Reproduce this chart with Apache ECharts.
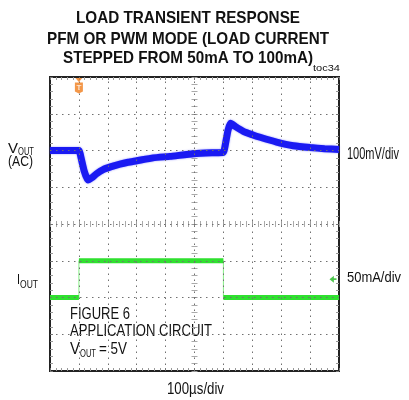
<!DOCTYPE html>
<html>
<head>
<meta charset="utf-8">
<script src="https://cdn.jsdelivr.net/npm/echarts@6/dist/echarts.min.js"></script>
<style>
  html, body { margin: 0; padding: 0; background: #ffffff; }
  #chart { width: 409px; height: 400px; }
</style>
</head>
<body>
<div id="chart"></div>
<script>
// scope capture, 100us/div horizontally
var timeUs = [0, 100, 104, 118, 131, 145, 160, 184, 212, 242, 270, 300, 357, 415, 496, 560, 600, 604, 616, 625, 640, 669, 700, 727, 784, 842, 900, 950, 1000]
// VOUT (AC coupled), mV, 100mV/div
var voutMv = [0, 0, -8, -55, -80, -74, -64, -52, -44, -37, -32, -28, -20, -16, -9, -6, -5, 5, 55, 74, 66, 52, 43, 36, 23, 13, 8, 5, 3]
// IOUT, mA, 50mA/div
var ioutTimeUs = [0, 100, 100, 600, 600, 1000]
var ioutMa = [50, 50, 100, 100, 50, 50]
var triggerUs = 100
var ioutRefMa = 75
// graticule divisions (time in us, current axis in mA)
var divTimeUs = [100, 200, 300, 400, 500, 600, 700, 800, 900]
var divCurrentMa = [0, 50, 100, 150, 200, 250, 300]

var chart = echarts.init(document.getElementById('chart'))

var sans = "'Liberation Sans', Arial, sans-serif"

var voutData = timeUs.map(function (t, i) { return [t, voutMv[i]] })
var ioutEdge = ioutTimeUs.map(function (t, i) { return [t, ioutMa[i]] })
// thick flat levels, vertical edges left thin
var ioutLevels = []
for (var i = 0; i < ioutTimeUs.length; i++) {
  if (i > 0 && ioutTimeUs[i] === ioutTimeUs[i - 1]) ioutLevels.push([ioutTimeUs[i], '-'])
  ioutLevels.push([ioutTimeUs[i], ioutMa[i]])
}
var graticule = divTimeUs.map(function (t) { return { xAxis: t } })
  .concat(divCurrentMa.map(function (v) { return { yAxis: v } }))

function frameAxis (extra) {
  var a = {
    type: 'value',
    axisLine: { show: false, onZero: false },
    axisLabel: { show: false },
    axisTick: { show: true, inside: true, length: 3, lineStyle: { color: '#777' } },
    minorTick: { show: true, splitNumber: 5, length: 3, lineStyle: { color: '#999' } },
    splitLine: { show: false }
  }
  for (var k in extra) a[k] = extra[k]
  return a
}

// the scope font is a condensed sans, so squeeze Liberation Sans to the width seen
var measureCtx = document.createElement('canvas').getContext('2d')
function txt (x, y, text, size, width, opts) {
  opts = opts || {}
  var font = (opts.bold ? 'bold ' : '') + size + 'px ' + sans
  measureCtx.font = font
  var w = measureCtx.measureText(text).width
  return {
    type: 'text',
    x: x,
    y: y,
    scaleX: width / w,
    style: {
      text: text,
      font: font,
      fill: '#111',
      textAlign: opts.align || 'left',
      textVerticalAlign: 'middle'
    }
  }
}

var centreTick = { show: true, inside: false, length: 6, lineStyle: { color: '#999' } }
var centreMinor = { show: true, splitNumber: 5, length: 6, lineStyle: { color: '#aaa' } }

var option = {
  backgroundColor: '#ffffff',
  animation: false,
  grid: {
    left: 50,
    right: 70,
    top: 77,
    bottom: 29,
    show: true,
    borderColor: '#222',
    borderWidth: 2,
    containLabel: false
  },
  xAxis: [
    frameAxis({ min: 0, max: 1000, interval: 100, position: 'bottom' }),
    frameAxis({ min: 0, max: 1000, interval: 100, position: 'top' }),
    // centre graticule line
    frameAxis({ min: 0, max: 1000, interval: 100, position: 'top', offset: -150,
      axisTick: centreTick, minorTick: centreMinor })
  ],
  yAxis: [
    frameAxis({ min: -600, max: 200, interval: 100, position: 'left' }),
    frameAxis({ min: -50, max: 350, interval: 50, position: 'right' }),
    frameAxis({ min: -600, max: 200, interval: 100, position: 'left', offset: -147.5,
      axisTick: centreTick, minorTick: centreMinor })
  ],
  series: [
    {
      name: 'IOUT edges',
      type: 'line',
      xAxisIndex: 0,
      yAxisIndex: 1,
      data: ioutEdge,
      showSymbol: false,
      lineStyle: { width: 1, color: '#86ee86' },
      markLine: {
        silent: true,
        symbol: ['none', 'none'],
        label: { show: false },
        lineStyle: { type: [1.5, 4.5], color: '#707070', width: 1 },
        emphasis: { disabled: true },
        data: graticule
      },
      z: 2
    },
    {
      name: 'IOUT',
      type: 'line',
      xAxisIndex: 0,
      yAxisIndex: 1,
      data: ioutLevels,
      connectNulls: false,
      showSymbol: false,
      lineStyle: { width: 5, color: '#2fe02f' },
      z: 3
    },
    {
      name: 'VOUT',
      type: 'line',
      xAxisIndex: 0,
      yAxisIndex: 0,
      data: voutData,
      showSymbol: false,
      smooth: 0.15,
      lineStyle: { width: 7, color: '#1a1af2', shadowColor: 'rgba(70,70,255,0.6)', shadowBlur: 2 },
      z: 4
    },
    {
      name: 'trigger arrow',
      type: 'scatter',
      xAxisIndex: 0,
      yAxisIndex: 0,
      data: [[triggerUs, 200]],
      symbol: 'path://M0,0 L10,0 L5,6 Z',
      symbolSize: [7, 4],
      symbolOffset: [0, 3],
      itemStyle: { color: '#f07d1c' },
      silent: true,
      z: 6
    },
    {
      name: 'trigger',
      type: 'scatter',
      xAxisIndex: 0,
      yAxisIndex: 0,
      data: [[triggerUs, 200]],
      symbol: 'path://M0,0 L8,0 L8,9 L4,11 L0,9 Z',
      symbolSize: [8, 11],
      symbolOffset: [0, 11],
      itemStyle: { color: '#f07d1c' },
      label: { show: true, position: 'inside', formatter: 'T', color: '#fff', fontSize: 8, fontWeight: 'bold', fontFamily: 'Liberation Sans' },
      silent: true,
      z: 6
    },
    {
      name: 'IOUT ref',
      type: 'scatter',
      xAxisIndex: 0,
      yAxisIndex: 1,
      data: [[1000, ioutRefMa]],
      symbol: 'path://M0,4 L5,0 L5,3 L8,3 L8,5 L5,5 L5,8 Z',
      symbolSize: [7, 7],
      symbolOffset: [-6, 0],
      itemStyle: { color: '#22b822' },
      silent: true,
      z: 6
    }
  ],
  graphic: [
    txt(188, 18, 'LOAD TRANSIENT RESPONSE', 16.5, 224, { bold: true, align: 'center' }),
    txt(188, 39.5, 'PFM OR PWM MODE (LOAD CURRENT', 16.5, 282, { bold: true, align: 'center' }),
    txt(188, 58, 'STEPPED FROM 50mA TO 100mA)', 16.5, 250, { bold: true, align: 'center' }),
    txt(313, 68.5, 'toc34', 9.5, 27),
    txt(8, 149.5, 'V', 14, 10),
    txt(18, 152.5, 'OUT', 10, 16),
    txt(8, 162, '(AC)', 15, 25),
    txt(17, 279.5, 'I', 15, 3),
    txt(20, 285, 'OUT', 10, 18),
    txt(347, 154.5, '100mV/div', 16, 52),
    txt(347, 278, '50mA/div', 15.5, 54),
    txt(70, 314.5, 'FIGURE 6', 16.5, 60),
    txt(70, 331.5, 'APPLICATION CIRCUIT', 16.5, 142),
    txt(70, 349.5, 'V', 16.5, 10),
    txt(80, 354, 'OUT', 10.5, 16),
    txt(99, 349.5, '= 5V', 16.5, 28),
    txt(195.5, 389.5, '100\u00b5s/div', 16, 57, { align: 'center' })
  ]
}

chart.setOption(option)
</script>
</body>
</html>
